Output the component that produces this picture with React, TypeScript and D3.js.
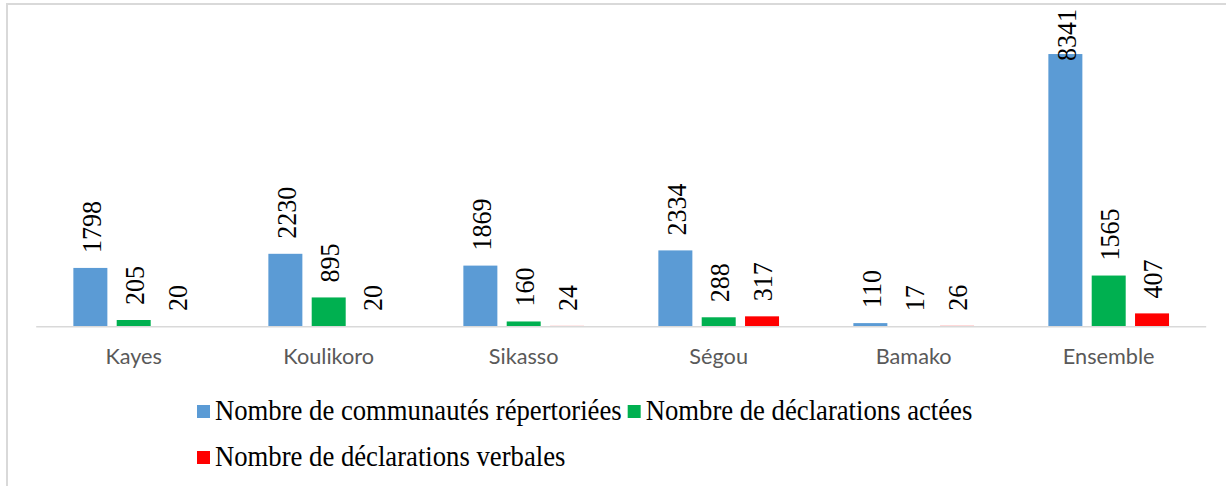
import { useEffect, useRef } from "react";
import * as d3 from "d3";

const categories = ["Kayes", "Koulikoro", "Sikasso", "Ségou", "Bamako", "Ensemble"];
const seriesNames = [
  "Nombre de communautés répertoriées",
  "Nombre de déclarations actées",
  "Nombre de déclarations verbales",
];
const communautes = [1798, 2230, 1869, 2334, 110, 8341];
const actees = [205, 895, 160, 288, 17, 1565];
const verbales = [20, 20, 24, 317, 26, 407];
const colors = ["#5b9bd5", "#00b050", "#ff0000"];

const width = 1226;
const height = 486;

export default function App() {
  const svgRef = useRef<SVGSVGElement | null>(null);

  useEffect(() => {
    const svg = d3.select(svgRef.current);
    svg.selectAll("*").remove();

    const values = [communautes, actees, verbales];
    const baseY = 326.7;
    const serif = "'Liberation Serif', 'Times New Roman', serif";

    // frame (only left + top visible in the crop)
    svg.append("rect")
      .attr("x", 7).attr("y", 4)
      .attr("width", 1260).attr("height", 520)
      .attr("fill", "#fff")
      .attr("stroke", "#d9d9d9")
      .attr("stroke-width", 2);

    const x0 = d3.scaleBand().domain(categories).range([36.2, 1206.2]).padding(0);
    const x1 = d3.scaleBand<number>()
      .domain([0, 1, 2])
      .range([0, x0.bandwidth()])
      .paddingInner(0.2154)
      .paddingOuter(0.8577);
    const y = d3.scaleLinear().domain([0, 9000]).range([baseY, baseY - 294.2]);

    const groups = svg.selectAll(".grp")
      .data(categories)
      .join("g")
      .attr("class", "grp")
      .attr("transform", (d) => `translate(${x0(d)},0)`);

    groups.each(function (cat, ci) {
      const g = d3.select(this);
      [0, 1, 2].forEach((si) => {
        const v = values[si][ci];
        g.append("rect")
          .attr("x", x1(si)!)
          .attr("y", y(v))
          .attr("width", x1.bandwidth())
          .attr("height", baseY - y(v))
          .attr("fill", colors[si]);
      });
    });

    // axis baseline
    svg.append("line")
      .attr("x1", 36.2).attr("x2", 1206.2)
      .attr("y1", baseY).attr("y2", baseY)
      .attr("stroke", "#d9d9d9")
      .attr("stroke-width", 1.5);

    // value labels, rotated
    groups.each(function (cat, ci) {
      const g = d3.select(this);
      [0, 1, 2].forEach((si) => {
        const v = values[si][ci];
        const cx = x1(si)! + x1.bandwidth() / 2 + 1;
        const t = g.append("text")
          .attr("font-family", serif)
          .attr("font-size", 26)
          .attr("fill", "#000")
          .attr("dominant-baseline", "central")
          .text(String(v));
        const len = (t.node() as SVGTextElement).getComputedTextLength();
        const yy = Math.max(y(v) - 15, 9 + len);
        t.attr("transform", `translate(${cx},${yy}) rotate(-90) scale(1,1.08)`);
      });
    });

    // category labels
    svg.selectAll(".cat")
      .data(categories)
      .join("text")
      .attr("class", "cat")
      .attr("x", (d) => x0(d)! + x0.bandwidth() / 2)
      .attr("y", 364)
      .attr("text-anchor", "middle")
      .attr("font-family", "Lato, 'Liberation Sans', sans-serif")
      .attr("font-size", 21.7)
      .attr("fill", "#595959")
      .text((d) => d);

    // legend
    const rows = [[0, 1], [2]];
    const rowBase = [420, 466];
    rows.forEach((row, ri) => {
      let cx = 197;
      row.forEach((si) => {
        svg.append("rect")
          .attr("x", cx).attr("y", rowBase[ri] - 15)
          .attr("width", 13).attr("height", 13)
          .attr("fill", colors[si]);
        const t = svg.append("text")
          .attr("transform", `translate(${cx + 18},${rowBase[ri]}) scale(1,1.08)`)
          .attr("font-family", serif)
          .attr("font-size", 26.7)
          .attr("fill", "#000")
          .text(seriesNames[si]);
        const len = (t.node() as SVGTextElement).getComputedTextLength();
        cx += 18 + len + 6;
      });
    });
  }, []);

  return (
    <svg
      ref={svgRef}
      width={width}
      height={height}
      style={{ position: "absolute", left: 0, top: 0, background: "#fff" }}
    />
  );
}
